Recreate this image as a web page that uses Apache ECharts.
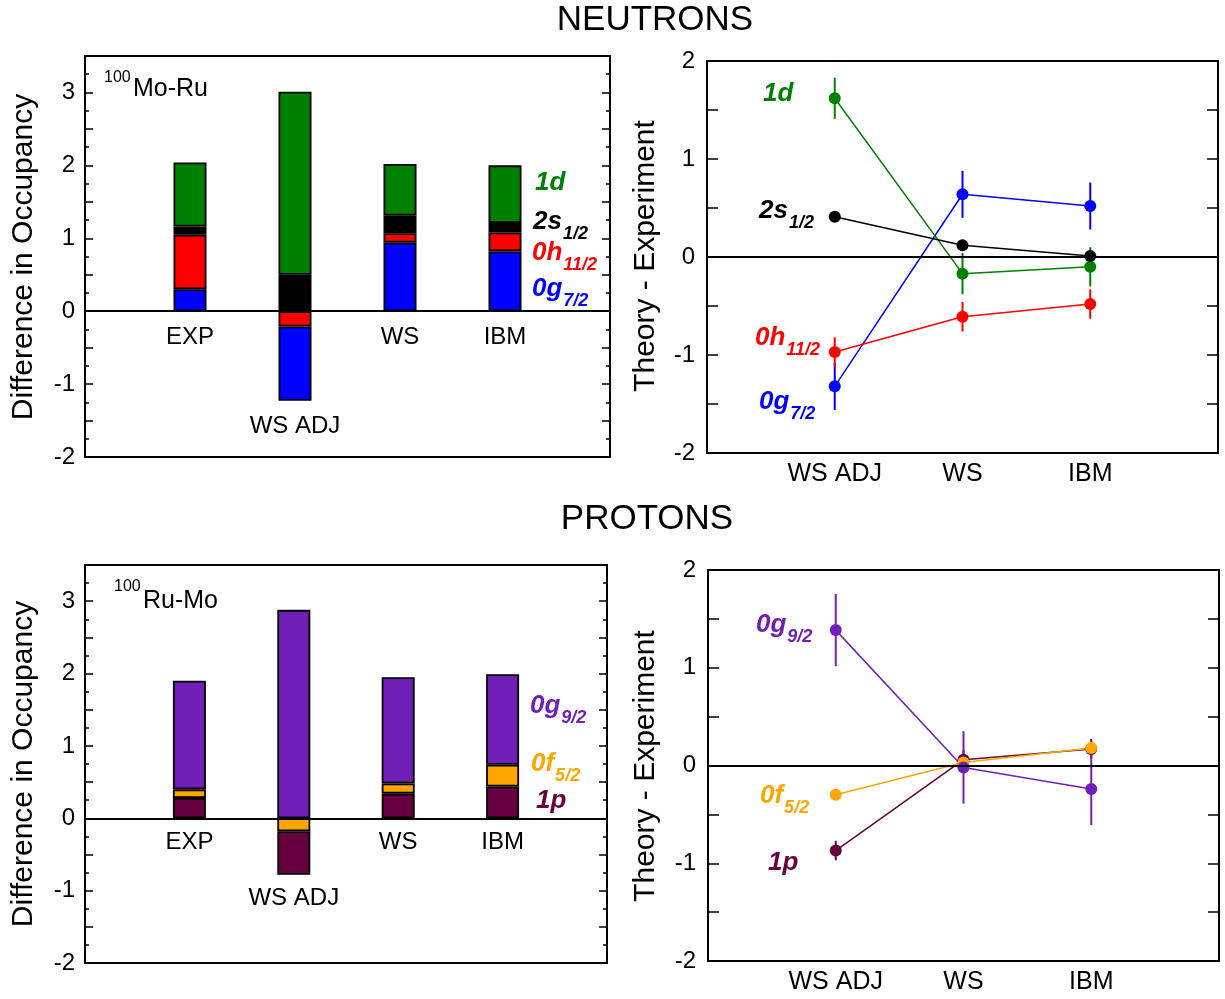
<!DOCTYPE html>
<html>
<head>
<meta charset="utf-8">
<script src="https://cdn.jsdelivr.net/npm/echarts@6/dist/echarts.min.js"></script>
<style>
  html, body { margin: 0; padding: 0; background: #fff; }
  #chart { width: 1225px; height: 999px; }
</style>
</head>
<body>
<div id="chart"></div>
<script>
const FONT = '"Liberation Sans", Arial, Helvetica, sans-serif';

// ---- Occupancy differences (stacked columns) ----
const barCategories = ['EXP', 'WS ADJ', 'WS', 'IBM'];

// neutrons, 100Mo - 100Ru
const nG72  = [0.30, -1.02, 0.94, 0.82];
const nH112 = [0.75, -0.21, 0.13, 0.26];
const nS12  = [0.11,  0.50, 0.24, 0.13];
const nD    = [0.88,  2.51, 0.71, 0.79];

// protons, 100Ru - 100Mo
const p1P  = [0.28, -0.60, 0.34, 0.44];
const pF52 = [0.12, -0.18, 0.14, 0.30];
const pG92 = [1.50,  2.88, 1.47, 1.25];

// ---- Theory - Experiment (with uncertainties) ----
const diffCategories = ['WS ADJ', 'WS', 'IBM'];

const dN1D  = [1.62, -0.17, -0.10];  const eN1D  = [0.21, 0.21, 0.20];
const dN2S  = [0.41,  0.12,  0.01];  const eN2S  = [0, 0, 0];
const dN0H  = [-0.97, -0.61, -0.48]; const eN0H  = [0.15, 0.15, 0.15];
const dN0G7 = [-1.32, 0.64, 0.52];   const eN0G7 = [0.24, 0.24, 0.24];

const dP0G9 = [1.385, -0.02, -0.24]; const eP0G9 = [0.37, 0.37, 0.37];
const dP0F  = [-0.30, 0.03, 0.18];   const eP0F  = [0, 0, 0];
const dP1P  = [-0.87, 0.06, 0.17];   const eP1P  = [0.10, 0.10, 0.10];

// colours
const C = {
  green: '#008000', black: '#000000', red: '#ff0000', blue: '#0000ff',
  purple: '#7020b8', orange: '#ffa500', maroon: '#660040'
};

// padded category list: an empty slot on each side of the four columns
const barSlots = [''].concat(barCategories, ['']);

// ---------- helpers ----------
const zeroLine = {
  silent: true, symbol: 'none', label: { show: false },
  lineStyle: { color: '#000', width: 2, type: 'solid' },
  data: [{ yAxis: 0 }]
};

function stackPart(name, values, color, sign, stack, xi, yi, extra) {
  const part = values.map(v => (sign > 0 ? v > 0 : v < 0) ? v : '-');
  return Object.assign({
    name: name, type: 'bar', stack: stack, xAxisIndex: xi, yAxisIndex: yi,
    barWidth: 33,
    data: ['-'].concat(part, ['-']),
    itemStyle: { color: color, borderColor: '#000', borderWidth: 1.8 },
    z: 2
  }, extra || {});
}

// column names, set just under the lowest end of each column
function columnNames(stacks, xi, yi, distance) {
  const bottoms = barCategories.map((c, i) =>
    stacks.reduce((s, arr) => s + Math.min(0, arr[i]), 0));
  return {
    type: 'scatter', xAxisIndex: xi, yAxisIndex: yi, symbolSize: 0, silent: true, z: 6,
    itemStyle: { opacity: 1 },
    data: barCategories.map((c, i) => ({ name: c, value: [i + 1, bottoms[i]] })),
    label: {
      show: true, position: 'bottom', distance: distance, formatter: '{b}',
      fontFamily: FONT, fontSize: 24, color: '#000', opacity: 1
    }
  };
}

function lineSeries(name, values, color, xi, yi, extra) {
  return Object.assign({
    name: name, type: 'line', xAxisIndex: xi, yAxisIndex: yi,
    data: values.map((v, i) => [i + 1, v]),
    symbol: 'circle', symbolSize: 12,
    lineStyle: { color: color, width: 1.5 },
    itemStyle: { color: color },
    z: 4
  }, extra || {});
}

function errorSeries(values, errs, color, xi, yi) {
  return {
    type: 'custom', xAxisIndex: xi, yAxisIndex: yi, silent: true, z: 3,
    data: values.map((v, i) => [i + 1, v - errs[i], v + errs[i]]).filter((d, i) => errs[i] > 0),
    encode: { x: 0, y: [1, 2] },
    renderItem: function (params, api) {
      const a = api.coord([api.value(0), api.value(1)]);
      const b = api.coord([api.value(0), api.value(2)]);
      return {
        type: 'line',
        shape: { x1: a[0], y1: a[1], x2: b[0], y2: b[1] },
        style: { stroke: color, lineWidth: 2 }
      };
    }
  };
}

const measureCtx = document.createElement('canvas').getContext('2d');
function textWidth(text, font) { measureCtx.font = font; return measureCtx.measureText(text).width; }

const MAIN_FONT = 'italic bold 26px ' + FONT;
const SUB_FONT = 'italic bold 18px ' + FONT;
function orbitalLabel(x, cy, main, sub, color, subDy) {
  const els = [{
    type: 'text', x: x, y: cy, z: 10,
    style: { text: main, font: MAIN_FONT, fill: color, align: 'left', verticalAlign: 'middle' }
  }];
  if (sub) {
    els.push({
      type: 'text', x: x + textWidth(main, MAIN_FONT) + 1, y: cy + (subDy || 12), z: 10,
      style: { text: sub, font: SUB_FONT, fill: color, align: 'left', verticalAlign: 'middle' }
    });
  }
  return els;
}

function plainText(x, y, text, size, opts) {
  return Object.assign({
    type: 'text', x: x, y: y, z: 10,
    style: Object.assign({ text: text, font: size + 'px ' + FONT, fill: '#000', align: 'center', verticalAlign: 'middle' }, (opts && opts.style) || {})
  }, (opts && opts.el) || {});
}

// ---------- axes ----------
const grids = [
  { left: 85,  top: 56,  width: 525, height: 401 },  // neutrons, occupancy
  { left: 707, top: 61,  width: 511, height: 392 },  // neutrons, theory - exp
  { left: 85,  top: 565, width: 522, height: 398 },  // protons, occupancy
  { left: 708, top: 570, width: 511, height: 391 }   // protons, theory - exp
].map(g => Object.assign({ show: true, borderColor: '#000', borderWidth: 2, backgroundColor: 'transparent' }, g));

function barXAxis(gi) {
  return {
    type: 'category', gridIndex: gi, data: barSlots, boundaryGap: false,
    axisLine: { show: false }, axisTick: { show: false }, splitLine: { show: false },
    axisLabel: { show: false }
  };
}

function diffXAxis(gi) {
  return {
    type: 'value', gridIndex: gi, min: 0, max: 4, interval: 1,
    axisLine: { show: false }, axisTick: { show: false }, splitLine: { show: false },
    axisLabel: {
      margin: 9, fontFamily: FONT, fontSize: 25, color: '#000',
      formatter: v => diffCategories[v - 1] || ''
    }
  };
}

function yAxisPair(gi, min, max, minor, tickLen) {
  const base = {
    type: 'value', gridIndex: gi, min: min, max: max, interval: 0.5,
    axisLine: { show: false }, splitLine: { show: false },
    axisTick: { show: true, inside: true, length: tickLen, lineStyle: { color: '#000', width: 1.5 } },
    minorTick: { show: minor, splitNumber: 2, length: 4, lineStyle: { color: '#000', width: 1.5 } }
  };
  return [
    Object.assign({}, base, {
      position: 'left',
      axisLabel: {
        margin: minor ? 10 : 12, fontFamily: FONT, fontSize: 24, color: '#000',
        formatter: v => Number.isInteger(v) ? String(v) : ''
      }
    }),
    Object.assign({}, base, { position: 'right', axisLabel: { show: false } })
  ];
}

const xAxes = [barXAxis(0), diffXAxis(1), barXAxis(2), diffXAxis(3)];
const yAxes = [].concat(
  yAxisPair(0, -2, 3.5, true, 8),
  yAxisPair(1, -2, 2, false, 11),
  yAxisPair(2, -2, 3.5, true, 8),
  yAxisPair(3, -2, 2, false, 11)
);

// ---------- series ----------
const series = [
  // neutrons, stacked occupancy (positive parts from the bottom up, negative parts from zero down)
  stackPart('0g7/2', nG72, C.blue, 1, 'n', 0, 0, { markLine: zeroLine }),
  stackPart('0h11/2', nH112, C.red, 1, 'n', 0, 0),
  stackPart('2s1/2', nS12, C.black, 1, 'n', 0, 0),
  stackPart('1d', nD, C.green, 1, 'n', 0, 0),
  stackPart('0h11/2', nH112, C.red, -1, 'n', 0, 0),
  stackPart('0g7/2', nG72, C.blue, -1, 'n', 0, 0),
  stackPart('2s1/2', nS12, C.black, -1, 'n', 0, 0),
  stackPart('1d', nD, C.green, -1, 'n', 0, 0),
  columnNames([nG72, nH112, nS12, nD], 0, 0, 14),

  // protons, stacked occupancy
  stackPart('1p', p1P, C.maroon, 1, 'p', 2, 4, { markLine: zeroLine }),
  stackPart('0f5/2', pF52, C.orange, 1, 'p', 2, 4),
  stackPart('0g9/2', pG92, C.purple, 1, 'p', 2, 4),
  stackPart('0f5/2', pF52, C.orange, -1, 'p', 2, 4),
  stackPart('1p', p1P, C.maroon, -1, 'p', 2, 4),
  stackPart('0g9/2', pG92, C.purple, -1, 'p', 2, 4),
  columnNames([p1P, pF52, pG92], 2, 4, 12),

  // neutrons, theory - experiment
  errorSeries(dN0G7, eN0G7, C.blue, 1, 2),
  errorSeries(dN0H, eN0H, C.red, 1, 2),
  errorSeries(dN1D, eN1D, C.green, 1, 2),
  errorSeries(dN2S, eN2S, C.black, 1, 2),
  lineSeries('0g7/2', dN0G7, C.blue, 1, 2, { markLine: zeroLine }),
  lineSeries('0h11/2', dN0H, C.red, 1, 2),
  lineSeries('1d', dN1D, C.green, 1, 2),
  lineSeries('2s1/2', dN2S, C.black, 1, 2),

  // protons, theory - experiment
  errorSeries(dP1P, eP1P, C.maroon, 3, 6),
  errorSeries(dP0F, eP0F, C.orange, 3, 6),
  errorSeries(dP0G9, eP0G9, C.purple, 3, 6),
  lineSeries('1p', dP1P, C.maroon, 3, 6, { markLine: zeroLine }),
  lineSeries('0f5/2', dP0F, C.orange, 3, 6),
  lineSeries('0g9/2', dP0G9, C.purple, 3, 6)
];

// ---------- annotations ----------
const graphics = [].concat(
  [
    plainText(655, 20, 'NEUTRONS', 35),
    plainText(647, 519, 'PROTONS', 35),
    plainText(24, 257, 'Difference in Occupancy', 30, { el: { rotation: Math.PI / 2 } }),
    plainText(24, 764, 'Difference in Occupancy', 30, { el: { rotation: Math.PI / 2 } }),
    plainText(646, 256, 'Theory - Experiment', 30, { el: { rotation: Math.PI / 2 } }),
    plainText(646, 766, 'Theory - Experiment', 30, { el: { rotation: Math.PI / 2 } }),
    plainText(104, 78, '100', 16, { style: { align: 'left' } }),
    plainText(133, 89, 'Mo-Ru', 25, { style: { align: 'left' } }),
    plainText(114, 587, '100', 16, { style: { align: 'left' } }),
    plainText(143, 601, 'Ru-Mo', 25, { style: { align: 'left' } })
  ],
  // neutron orbitals, occupancy panel
  orbitalLabel(535, 183, '1d', null, C.green),
  orbitalLabel(533, 222, '2s', '1/2', C.black),
  orbitalLabel(532, 253, '0h', '11/2', C.red),
  orbitalLabel(532, 289, '0g', '7/2', C.blue),
  // neutron orbitals, difference panel
  orbitalLabel(763, 94, '1d', null, C.green),
  orbitalLabel(759, 211, '2s', '1/2', C.black),
  orbitalLabel(755, 338, '0h', '11/2', C.red),
  orbitalLabel(759, 402, '0g', '7/2', C.blue),
  // proton orbitals, occupancy panel
  orbitalLabel(530, 706, '0g', '9/2', C.purple),
  orbitalLabel(531, 764, '0f', '5/2', C.orange),
  orbitalLabel(536, 801, '1p', null, C.maroon),
  // proton orbitals, difference panel
  orbitalLabel(756, 625, '0g', '9/2', C.purple),
  orbitalLabel(760, 796, '0f', '5/2', C.orange),
  orbitalLabel(768, 863, '1p', null, C.maroon)
);

const chart = echarts.init(document.getElementById('chart'), null, { renderer: 'canvas' });
chart.setOption({
  animation: false,
  backgroundColor: '#fff',
  textStyle: { fontFamily: FONT },
  grid: grids,
  xAxis: xAxes,
  yAxis: yAxes,
  series: series,
  graphic: graphics
});
</script>
</body>
</html>
